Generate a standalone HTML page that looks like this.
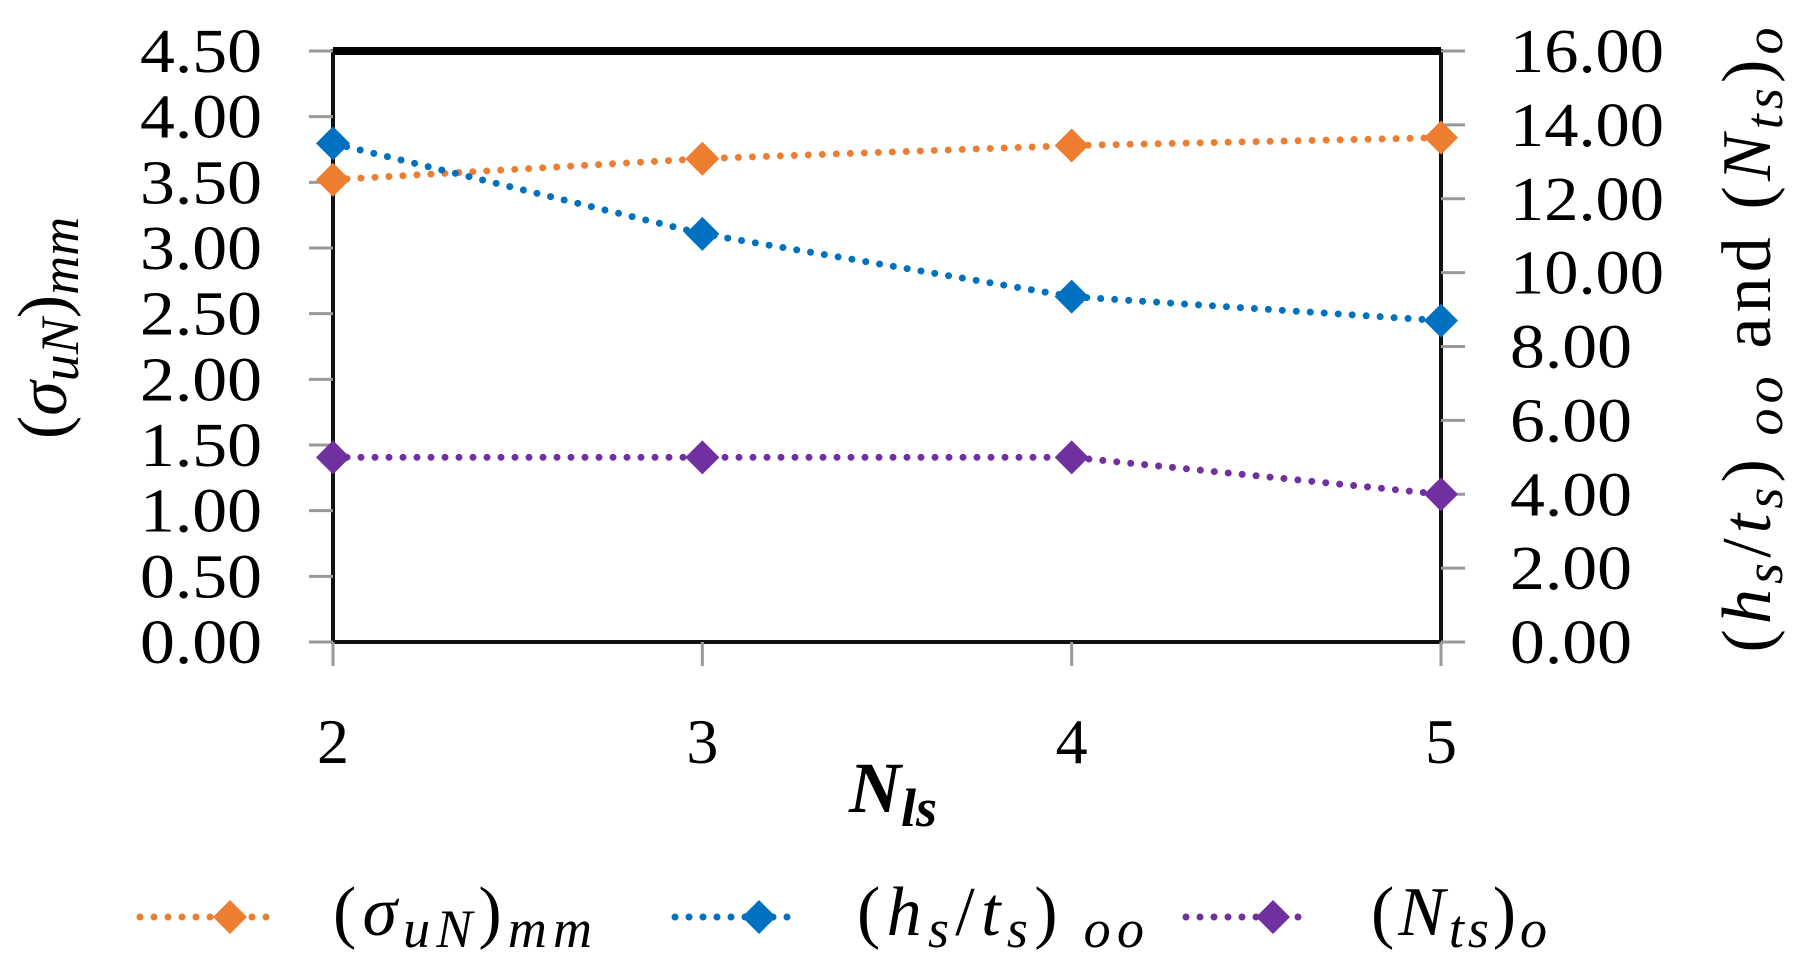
<!DOCTYPE html>
<html><head><meta charset="utf-8"><style>
html,body{margin:0;padding:0;background:#fff;}
svg{display:block;font-family:"Liberation Serif",serif;}
</style></head><body>
<svg id="chart" width="1803" height="969" viewBox="0 0 1803 969">
<g id="grid"></g>
<g id="series"></g>
<text transform="translate(66,328) rotate(-90)" text-anchor="middle" font-size="70" fill="#000">(<tspan font-style="italic">σ</tspan><tspan font-style="italic" font-size="54" dy="12">uN</tspan><tspan dy="-12">)</tspan><tspan font-style="italic" font-size="54" dy="12">mm</tspan></text>
<text transform="translate(1770,340) rotate(-90)" text-anchor="middle" font-size="70" fill="#000" textLength="625" lengthAdjust="spacing">(<tspan font-style="italic">h</tspan><tspan font-style="italic" font-size="54" dy="12">s</tspan><tspan dy="-12">/</tspan><tspan font-style="italic">t</tspan><tspan font-style="italic" font-size="54" dy="12">s</tspan><tspan dy="-12">)</tspan><tspan font-style="italic" font-size="54" dy="12"> oo</tspan><tspan dy="-12"> and (</tspan><tspan font-style="italic">N</tspan><tspan font-style="italic" font-size="54" dy="12">ts</tspan><tspan dy="-12">)</tspan><tspan font-style="italic" font-size="54" dy="12">o</tspan></text>
<text x="893" y="812" text-anchor="middle" font-size="72" font-weight="bold" font-style="italic" fill="#000">N<tspan font-size="54" dy="14">ls</tspan></text>
<g id="legend"></g>
</svg>
<script>
const categories = [2, 3, 4, 5];
const sigmaValues = [3.52, 3.68, 3.78, 3.84];
const hsTsValues = [13.5, 11.05, 9.35, 8.7];
const ntsValues = [5.0, 5.0, 5.0, 4.0];
const leftTicks = ["0.00","0.50","1.00","1.50","2.00","2.50","3.00","3.50","4.00","4.50"];
const rightTicks = ["0.00","2.00","4.00","6.00","8.00","10.00","12.00","14.00","16.00"];

const NS = "http://www.w3.org/2000/svg";
const L = 333, R = 1441, T = 51, B = 642;
const xScale = v => L + (v - 2) / 3 * (R - L);
const yLeft = v => B - v / 4.5 * (B - T);
const yRight = v => B - v / 16 * (B - T);
function mk(tag, attrs, parent) {
  const e = document.createElementNS(NS, tag);
  for (const k in attrs) e.setAttribute(k, attrs[k]);
  parent.appendChild(e);
  return e;
}
const grid = document.getElementById('grid');
const series = document.getElementById('series');
const legend = document.getElementById('legend');

const frame = mk('rect', {x: L, y: T, width: R - L, height: B - T, fill: 'none', stroke: '#111', 'stroke-width': 4}, grid);


const topLine = mk('line', {x1: L, y1: T, x2: R, y2: T, stroke: '#000', 'stroke-width': 8}, grid);



leftTicks.forEach(t => {
  const y = yLeft(parseFloat(t));
  const tk = mk('line', {x1: L - 24, y1: y, x2: L, y2: y, stroke: '#999', 'stroke-width': 3}, grid);
  
  
  const tx = mk('text', {x: 262, y: y + 21, 'text-anchor': 'end', 'font-size': 62, textLength: 122, lengthAdjust: 'spacingAndGlyphs', fill: '#000'}, grid);
  tx.textContent = t;
  
  
});
rightTicks.forEach(t => {
  const y = yRight(parseFloat(t));
  const tk = mk('line', {x1: R, y1: y, x2: R + 24, y2: y, stroke: '#999', 'stroke-width': 3}, grid);
  
  
  const tx = mk('text', {x: 1510, y: y + 21, 'text-anchor': 'start', 'font-size': 62, textLength: t.length === 5 ? 154 : 122, lengthAdjust: 'spacingAndGlyphs', fill: '#000'}, grid);
  tx.textContent = t;
  
  
});
categories.forEach(c => {
  const x = xScale(c);
  const tk = mk('line', {x1: x, y1: B, x2: x, y2: B + 24, stroke: '#999', 'stroke-width': 3}, grid);
  
  
  const tx = mk('text', {x: x, y: 763, 'text-anchor': 'middle', 'font-size': 64, fill: '#000'}, grid);
  tx.textContent = String(c);
  
  
});

function diamond(cx, cy, r, color, parent) {
  return mk('polygon', {points: `${cx},${cy - r} ${cx + r},${cy} ${cx},${cy + r} ${cx - r},${cy}`, fill: color}, parent);
}
function drawSeries(vals, yf, color, name) {
  const g = mk('g', {}, series);
  
  
  const pts = vals.map((v, i) => xScale(categories[i]) + ',' + yf(v)).join(' ');
  const line = mk('polyline', {points: pts, fill: 'none', stroke: color, 'stroke-width': 7, 'stroke-linecap': 'round', 'stroke-dasharray': '0 14'}, g);
  
  
  vals.forEach((v, i) => {
    const d = diamond(xScale(categories[i]), yf(v), 17, color, g);
    
    
  });
}
drawSeries(sigmaValues, yLeft, '#ED7D31', 'sigma-un-mm');
drawSeries(hsTsValues, yRight, '#0070C0', 'hs-ts-oo');
drawSeries(ntsValues, yRight, '#7030A0', 'nts-o');

function legendEntry(x1, x2, mx, color, name) {
  const g = mk('g', {}, legend);
  
  
  mk('line', {x1: x1, y1: 917, x2: x2, y2: 917, stroke: color, 'stroke-width': 7, 'stroke-linecap': 'round', 'stroke-dasharray': '0 14'}, g);
  diamond(mx, 917, 17, color, g);
}
legendEntry(140, 270, 230, '#ED7D31', 'legend-entry-sigma');
legendEntry(675, 800, 759, '#0070C0', 'legend-entry-hs-ts');
legendEntry(1186, 1311, 1273, '#7030A0', 'legend-entry-nts');

const lt1 = mk('text', {x: 333, y: 935, 'font-size': 70, fill: '#000', textLength: 259, lengthAdjust: 'spacing'}, legend);
lt1.innerHTML = '(<tspan font-style="italic">σ</tspan><tspan font-style="italic" font-size="54" dy="12">uN</tspan><tspan dy="-12">)</tspan><tspan font-style="italic" font-size="54" dy="12">mm</tspan>';


const lt2 = mk('text', {x: 857, y: 935, 'font-size': 70, fill: '#000', textLength: 287, lengthAdjust: 'spacing'}, legend);
lt2.innerHTML = '(<tspan font-style="italic">h</tspan><tspan font-style="italic" font-size="54" dy="12">s</tspan><tspan dy="-12">/</tspan><tspan font-style="italic">t</tspan><tspan font-style="italic" font-size="54" dy="12">s</tspan><tspan dy="-12">)</tspan><tspan font-style="italic" font-size="54" dy="12"> oo</tspan>';


const lt3 = mk('text', {x: 1371, y: 935, 'font-size': 70, fill: '#000', textLength: 176, lengthAdjust: 'spacing'}, legend);
lt3.innerHTML = '(<tspan font-style="italic">N</tspan><tspan font-style="italic" font-size="54" dy="12">ts</tspan><tspan dy="-12">)</tspan><tspan font-style="italic" font-size="54" dy="12">o</tspan>';


</script>
</body></html>
